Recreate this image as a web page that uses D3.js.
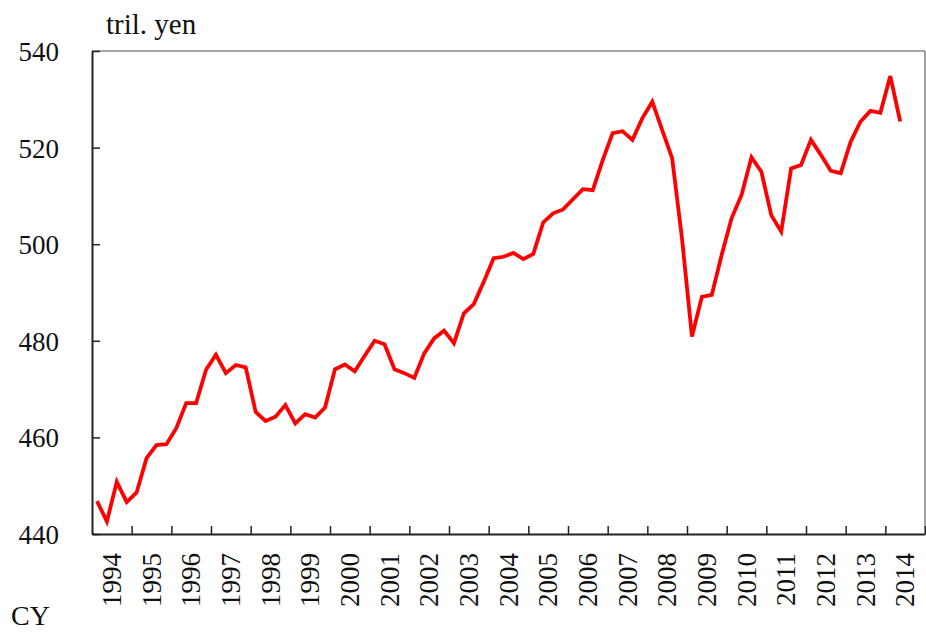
<!DOCTYPE html>
<html lang="en">
<head>
<meta charset="UTF-8"/>
<title>GDP, tril. yen</title>
<script src="https://cdn.jsdelivr.net/npm/d3@7"></script>
<style>
  body { margin: 0; background: #fff; }
  text { font-family: "Liberation Serif", "Times New Roman", serif; fill: #111; }
</style>
</head>
<body>
<script>
// quarterly values, 1994 Q1 .. 2014 Q2 (tril. yen)
var values = [
  446.8, 442.6, 450.8, 446.6,
  448.6, 455.7, 458.4, 458.6,
  461.9, 467.1, 467.1, 474.0,
  477.1, 473.3, 475.0, 474.5,
  465.3, 463.4, 464.3, 466.7,
  462.9, 464.8, 464.1, 466.2,
  474.1, 475.1, 473.7, 476.9,
  480.0, 479.3, 474.1, 473.3,
  472.3, 477.4, 480.5, 482.1,
  479.5, 485.7, 487.6, 492.2,
  497.1, 497.4, 498.2, 496.9,
  498.0, 504.5, 506.4, 507.2,
  509.3, 511.4, 511.2, 517.4,
  523.0, 523.4, 521.6, 526.1,
  529.5, 523.6, 517.8, 501.1,
  480.9, 489.1, 489.5, 497.8,
  505.4, 510.2, 518.0, 515.0,
  506.0, 502.6, 515.7, 516.4,
  521.6, 518.5, 515.2, 514.7,
  521.2, 525.4, 527.6, 527.2,
  534.8, 525.4
];
var startYear = 1994;
var years = [1994, 1995, 1996, 1997, 1998, 1999, 2000, 2001, 2002, 2003, 2004,
             2005, 2006, 2007, 2008, 2009, 2010, 2011, 2012, 2013, 2014];
var yTicks = [440, 460, 480, 500, 520, 540];

var w = 926, h = 633;
var plotLeft = 92, plotRight = 925, plotTop = 51, plotBottom = 534;

var svg = d3.select("body").append("svg")
  .attr("width", w)
  .attr("height", h);

var xScale = d3.scaleLinear()
  .domain([startYear, years[years.length - 1] + 1])
  .range([plotLeft, plotRight]);

var yScale = d3.scaleLinear()
  .domain([440, 540])
  .range([plotBottom, plotTop]);

// frame
svg.append("line").attr("x1", plotLeft).attr("x2", plotRight).attr("y1", plotTop).attr("y2", plotTop)
  .attr("stroke", "#888").attr("stroke-width", 1.5);
svg.append("line").attr("x1", plotRight).attr("x2", plotRight).attr("y1", plotTop).attr("y2", plotBottom)
  .attr("stroke", "#666").attr("stroke-width", 1.2);

// y axis
var yAxis = d3.axisRight(yScale)
  .tickValues(yTicks)
  .tickSize(8)
  .tickSizeOuter(0)
  .tickFormat("");
var gy = svg.append("g")
  .attr("transform", "translate(" + plotLeft + ",0)")
  .call(yAxis);
gy.select(".domain").attr("stroke", "#222").attr("stroke-width", 2);
gy.selectAll(".tick line").attr("stroke", "#222").attr("stroke-width", 1.5);

svg.selectAll(".ylab")
  .data(yTicks)
  .enter()
  .append("text")
  .attr("class", "ylab")
  .attr("x", 59)
  .attr("y", function(d) { return yScale(d) + 10; })
  .attr("text-anchor", "end")
  .attr("font-size", "27px")
  .text(function(d) { return d; });

// x axis: ticks at year boundaries
var xAxis = d3.axisTop(xScale)
  .tickValues(years.slice(1).concat([years[years.length - 1] + 1]))
  .tickSize(8)
  .tickSizeOuter(0)
  .tickFormat("");
var gx = svg.append("g")
  .attr("transform", "translate(0," + plotBottom + ")")
  .call(xAxis);
gx.select(".domain").attr("stroke", "#222").attr("stroke-width", 2);
gx.selectAll(".tick line").attr("stroke", "#222").attr("stroke-width", 1.5);

svg.selectAll(".xlab")
  .data(years)
  .enter()
  .append("text")
  .attr("class", "xlab")
  .attr("transform", function(d) {
    return "translate(" + (xScale(d + 0.5) + 9) + ",553) rotate(-90)";
  })
  .attr("text-anchor", "end")
  .attr("font-size", "27px")
  .text(function(d) { return d; });

// units
svg.append("text").attr("x", 106).attr("y", 34).attr("font-size", "29px").text("tril. yen");
svg.append("text").attr("x", 11).attr("y", 625).attr("font-size", "28px").text("CY");

// series
var line = d3.line()
  .x(function(d, i) { return xScale(startYear + (i + 0.5) / 4); })
  .y(function(d) { return yScale(d); });

svg.append("path")
  .datum(values)
  .attr("d", line)
  .attr("fill", "none")
  .attr("stroke", "#ff0000")
  .attr("stroke-width", 3.8)
  .attr("stroke-linejoin", "miter");
</script>
</body>
</html>
